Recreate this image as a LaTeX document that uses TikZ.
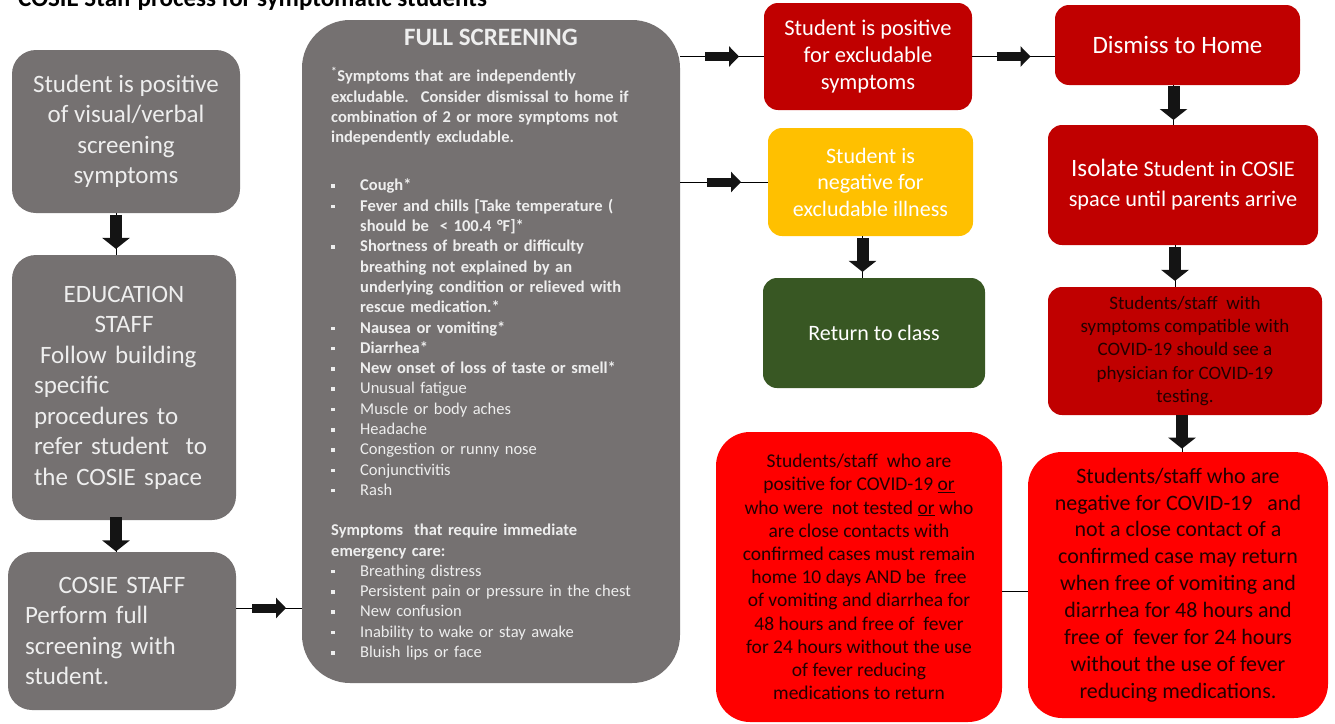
\documentclass[tikz,border=0pt]{standalone}
\usepackage{fontspec}
\setmainfont{Carlito}
\usepackage{tikz}
\usetikzlibrary{arrows.meta,decorations.markings,positioning}
\usepackage{xcolor}
\newcommand{\bl}{\makebox[29pt][l]{\raisebox{3pt}{\rule{3.5pt}{3.5pt}}}}
\newcommand{\ind}{\hspace*{29pt}}
\tikzset{
    boxsty/.style={rectangle,anchor=center,align=center,inner sep=0pt},
    greysty/.style={boxsty,fill=boxgray,rounded corners=24pt,text=greytxt,font=\fontsize{25}{30.5}\selectfont},
    dkredsty/.style={boxsty,fill=dkred,rounded corners=14pt,text=white,font=\fontsize{22.5}{27}\selectfont},
    brredsty/.style={boxsty,fill=brred,rounded corners=34pt,text=dktxt},
    ylsty/.style={boxsty,fill=ylbox,rounded corners=14pt,text=white,font=\fontsize{22}{26.5}\selectfont},
    grsty/.style={boxsty,fill=grbox,rounded corners=14pt,text=white,font=\fontsize{22}{26.5}\selectfont},
    scrtxtsty/.style={inner sep=0pt,align=left,text width=345pt,text=greytxt,font=\fontsize{16.5}{20.3}\selectfont},
    linesty/.style={draw=black,line width=0.8pt},
    harrsty/.style={linesty,postaction={decorate,decoration={markings,
        mark=at position 0.5 with {\draw[arrblk,line width=9pt,-{Triangle[length=10pt,width=20pt]}] (-17pt,0) -- (17pt,0);}}}},
    varrsty/.style={linesty,postaction={decorate,decoration={markings,
        mark=at position 0.45 with {\draw[arrblk,line width=12pt,-{Triangle[length=11pt,width=27pt]}] (-17pt,0) -- (17pt,0);}}}},
}
\definecolor{boxgray}{RGB}{117,113,113}
\definecolor{greytxt}{RGB}{238,238,238}
\definecolor{dkred}{RGB}{192,0,0}
\definecolor{brred}{RGB}{255,0,0}
\definecolor{ylbox}{RGB}{255,192,0}
\definecolor{grbox}{RGB}{56,87,35}
\definecolor{dktxt}{RGB}{35,0,0}
\definecolor{arrblk}{RGB}{20,20,20}

\begin{document}
\begin{tikzpicture}[x=1pt,y=-1pt]
  \path[use as bounding box,fill=white] (0,0) rectangle (1335,723);

  \node[anchor=base west,inner sep=0pt,font=\bfseries\fontsize{25}{30}\selectfont] (title) at (18,6.5)
    {COSIE Staff process for symptomatic students};

  % left column
  \node[greysty,minimum width=228pt,minimum height=163pt] (start) at (126,131.5)
    {Student is positive\\ of visual/verbal\\ screening\\ symptoms};
  \node[greysty,minimum width=224pt,minimum height=265pt,text width=180pt,align=left] (edu) at (124,387.5)
    {\centering EDUCATION\\ STAFF\par\raggedright\hspace*{6pt}Follow building\\ specific\\ procedures to\\ refer student\ \ to\\ the COSIE space};
  \node[greysty,minimum width=228pt,minimum height=158pt,text width=194pt,align=left] (cosie) at (122,631)
    {\centering COSIE STAFF\par\raggedright Perform full\\ screening with\\ student.};

  % full screening
  \node[greysty,rounded corners=48pt,minimum width=378pt,minimum height=663pt] (fullscr) at (491,351.5) {};
  \node[below=9pt of fullscr.north,inner sep=0pt,text=greytxt,font=\bfseries\fontsize{25}{30}\selectfont] (scrtitle) {FULL SCREENING};
  \node[scrtxtsty,anchor=north west] (scrtext) at (331,67) {%
    \bfseries\textsuperscript{*}Symptoms that are independently\\
    excludable.\hspace{12pt}Consider dismissal to home if\\
    combination of 2 or more symptoms not\\
    independently excludable.\\[28pt]
    \bl Cough*\\
    \bl Fever and chills [Take temperature (\\
    \ind should be\ \ < 100.4 °F]*\\
    \bl Shortness of breath or difficulty\\
    \ind breathing not explained by an\\
    \ind underlying condition or relieved with\\
    \ind rescue medication.*\\
    \bl Nausea or vomiting*\\
    \bl Diarrhea*\\
    \bl New onset of loss of taste or smell*\\
    \mdseries
    \bl Unusual fatigue\\
    \bl Muscle or body aches\\
    \bl Headache\\
    \bl Congestion or runny nose\\
    \bl Conjunctivitis\\
    \bl Rash\\[20pt]
    \bfseries Symptoms\ \ that require immediate\\
    emergency care:\\
    \mdseries
    \bl Breathing distress\\
    \bl Persistent pain or pressure in the chest\\
    \bl New confusion\\
    \bl Inability to wake or stay awake\\
    \bl Bluish lips or face};

  % outcome boxes
  \node[dkredsty,minimum width=208pt,minimum height=107pt] (posbox) at (868,56.5)
    {Student is positive\\ for excludable\\ symptoms};
  \node[dkredsty,minimum width=245pt,minimum height=80pt,font=\fontsize{25}{30}\selectfont] (dismiss) at (1177.5,45)
    {Dismiss to Home};
  \node[dkredsty,minimum width=270pt,minimum height=120pt,font=\fontsize{22.3}{30}\selectfont] (isolate) at (1183,185)
    {{\fontsize{25}{30}\selectfont Isolate} Student in COSIE\\ space until parents arrive};
  \node[dkredsty,minimum width=274pt,minimum height=128pt,text=dktxt,font=\fontsize{19}{23.3}\selectfont] (physician) at (1185,351)
    {Students/staff\ \ with\\ symptoms compatible with\\ COVID-19 should see a\\ physician for COVID-19\\ testing.};
  \node[ylsty,minimum width=205pt,minimum height=108pt] (negbox) at (870.5,182)
    {Student is\\ negative for\\ excludable illness};
  \node[grsty,minimum width=222pt,minimum height=110pt] (class) at (874,333)
    {Return to class};
  \node[brredsty,minimum width=286pt,minimum height=290pt,font=\fontsize{19.5}{23.2}\selectfont] (poscovid) at (859,577)
    {Students/staff\ \ who are\\ positive for COVID-19 \underline{or}\\ who were\ \ not tested \underline{or} who\\
     are close contacts with\\ confirmed cases must remain\\ home 10 days AND be\ \ free\\ of vomiting and diarrhea for\\
     48 hours and free of\ \ fever\\ for 24 hours without the use\\ of fever reducing\\ medications to return};
  \node[brredsty,minimum width=300pt,minimum height=266pt,font=\fontsize{22}{26.9}\selectfont] (negcovid) at (1178,585)
    {Students/staff who are\\ negative for COVID-19\ \ \ and\\ not a close contact of a\\ confirmed case may return\\
     when free of vomiting and\\ diarrhea for 48 hours and\\ free of\ \ fever for 24 hours\\ without the use of fever\\ reducing medications.};

  % connectors
  \draw[varrsty] ([xshift=-10pt]start.south) -- ([xshift=-10pt]start.south |- edu.north);
  \draw[varrsty] ([xshift=-8pt]edu.south) -- ([xshift=-8pt]edu.south |- cosie.north);
  \draw[harrsty] ([yshift=23pt]cosie.east) -- ([yshift=23pt]cosie.east -| fullscr.west);
  \draw[harrsty] (fullscr.east |- posbox.west) -- (posbox.west);
  \draw[harrsty] (fullscr.east |- negbox.west) -- (negbox.west);
  \draw[harrsty] (posbox.east) -- (posbox.east -| dismiss.west);
  \draw[varrsty] ([xshift=-8pt]negbox.south) -- ([xshift=-8pt]negbox.south |- class.north);
  \draw[varrsty] ([xshift=-4pt]dismiss.south) -- ([xshift=-4pt]dismiss.south |- isolate.north);
  \draw[varrsty] ([xshift=-8pt]isolate.south) -- ([xshift=-8pt]isolate.south |- physician.north);
  \draw[varrsty] ([xshift=-3pt]physician.south) -- ([xshift=-3pt]physician.south |- negcovid.north);
  \draw[linesty] ([yshift=-14pt]poscovid.east) -- ([yshift=-14pt]poscovid.east -| negcovid.west);
\end{tikzpicture}
\end{document}
